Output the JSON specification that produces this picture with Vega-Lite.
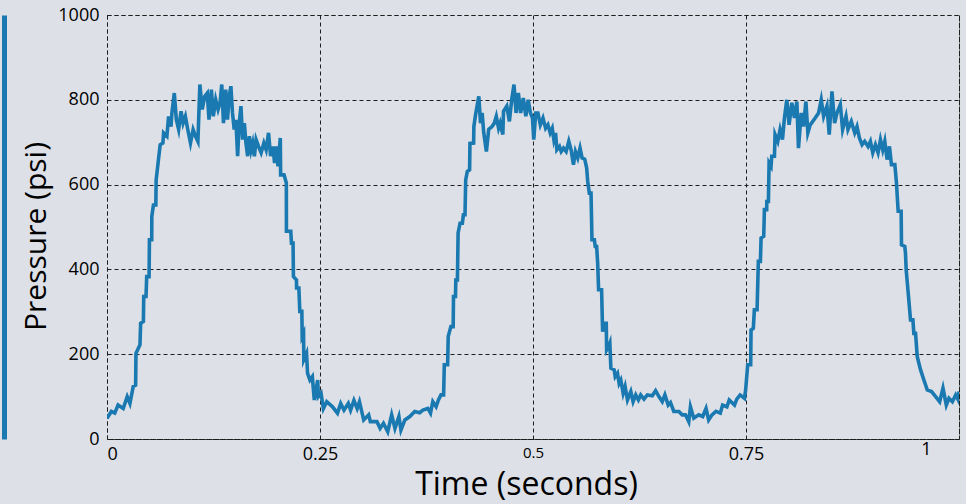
{
  "$schema": "https://vega.github.io/schema/vega-lite/v6.json",
  "width": 852,
  "height": 424,
  "autosize": {"type": "none"},
  "padding": {"left": 107, "top": 15, "right": 7, "bottom": 65},
  "background": "#dde1e7",
  "config": {
    "view": {"stroke": "#1e1e1e", "strokeDash": [4, 3], "strokeWidth": 1},
    "font": "Open Sans"
  },
  "data": {"values": [
    {"t":0,"p":49},{"t":0.0051,"p":65},{"t":0.0091,"p":61},{"t":0.013,"p":80},{"t":0.019,"p":72},{"t":0.0237,"p":100},{"t":0.0269,"p":84},{"t":0.0308,"p":124},{"t":0.0336,"p":127},{"t":0.034,"p":202},{"t":0.0387,"p":222},{"t":0.0395,"p":273},{"t":0.0427,"p":277},{"t":0.0431,"p":336},{"t":0.0458,"p":336},{"t":0.0466,"p":383},{"t":0.0494,"p":383},{"t":0.0498,"p":470},{"t":0.0525,"p":470},{"t":0.0526,"p":525},{"t":0.0545,"p":552},{"t":0.0573,"p":552},{"t":0.0577,"p":611},{"t":0.0604,"p":659},{"t":0.0624,"p":694},{"t":0.0656,"p":698},{"t":0.0664,"p":722},{"t":0.0703,"p":714},{"t":0.0723,"p":761},{"t":0.0751,"p":737},{"t":0.0762,"p":769},{"t":0.079,"p":816},{"t":0.0814,"p":753},{"t":0.0841,"p":730},{"t":0.0869,"p":773},{"t":0.0893,"p":745},{"t":0.092,"p":761},{"t":0.0948,"p":730},{"t":0.098,"p":698},{"t":0.1011,"p":730},{"t":0.1039,"p":714},{"t":0.1067,"p":702},{"t":0.109,"p":836},{"t":0.1118,"p":777},{"t":0.1146,"p":808},{"t":0.1177,"p":816},{"t":0.1197,"p":753},{"t":0.1225,"p":824},{"t":0.1248,"p":761},{"t":0.1276,"p":800},{"t":0.1304,"p":777},{"t":0.1327,"p":793},{"t":0.1347,"p":836},{"t":0.1367,"p":745},{"t":0.1394,"p":824},{"t":0.1414,"p":753},{"t":0.1434,"p":808},{"t":0.1454,"p":832},{"t":0.1473,"p":769},{"t":0.1493,"p":730},{"t":0.1513,"p":753},{"t":0.1533,"p":667},{"t":0.1552,"p":745},{"t":0.1572,"p":785},{"t":0.1592,"p":706},{"t":0.1612,"p":745},{"t":0.1631,"p":698},{"t":0.1651,"p":667},{"t":0.1671,"p":714},{"t":0.1691,"p":682},{"t":0.171,"p":698},{"t":0.173,"p":667},{"t":0.175,"p":706},{"t":0.1778,"p":690},{"t":0.1809,"p":675},{"t":0.1841,"p":698},{"t":0.1868,"p":682},{"t":0.1896,"p":722},{"t":0.192,"p":667},{"t":0.1947,"p":690},{"t":0.1967,"p":651},{"t":0.1987,"p":690},{"t":0.2007,"p":643},{"t":0.2034,"p":710},{"t":0.2038,"p":623},{"t":0.2078,"p":623},{"t":0.2105,"p":604},{"t":0.2106,"p":490},{"t":0.2157,"p":490},{"t":0.2165,"p":462},{"t":0.2184,"p":462},{"t":0.2188,"p":383},{"t":0.2224,"p":375},{"t":0.2225,"p":356},{"t":0.2252,"p":356},{"t":0.2263,"p":301},{"t":0.2287,"p":301},{"t":0.2291,"p":242},{"t":0.2307,"p":249},{"t":0.231,"p":187},{"t":0.2342,"p":202},{"t":0.2354,"p":155},{"t":0.2382,"p":139},{"t":0.241,"p":147},{"t":0.2433,"p":92},{"t":0.2473,"p":139},{"t":0.2481,"p":100},{"t":0.2512,"p":108},{"t":0.254,"p":72},{"t":0.2579,"p":88},
    {"t":0.2647,"p":76},{"t":0.2705,"p":61},{"t":0.2743,"p":84},{"t":0.2782,"p":68},{"t":0.2832,"p":84},{"t":0.2859,"p":68},{"t":0.2898,"p":91},{"t":0.2936,"p":72},{"t":0.2963,"p":88},{"t":0.3013,"p":45},{"t":0.3071,"p":57},{"t":0.3091,"p":41},{"t":0.3168,"p":41},{"t":0.3206,"p":25},{"t":0.3245,"p":37},{"t":0.3295,"p":17},{"t":0.3341,"p":57},{"t":0.338,"p":25},{"t":0.3426,"p":53},{"t":0.345,"p":21},{"t":0.3496,"p":45},{"t":0.3554,"p":53},{"t":0.3612,"p":65},{"t":0.367,"p":62},{"t":0.3708,"p":68},{"t":0.3766,"p":72},{"t":0.3797,"p":61},{"t":0.3824,"p":88},{"t":0.3863,"p":76},{"t":0.389,"p":92},{"t":0.392,"p":104},{"t":0.3951,"p":104},{"t":0.3959,"p":175},{"t":0.3998,"p":175},{"t":0.4005,"p":242},{"t":0.4036,"p":265},{"t":0.4063,"p":265},{"t":0.4067,"p":336},{"t":0.409,"p":336},{"t":0.4094,"p":375},{"t":0.4113,"p":375},{"t":0.4121,"p":486},{"t":0.4144,"p":509},{"t":0.4171,"p":509},{"t":0.4183,"p":529},{"t":0.4202,"p":529},{"t":0.421,"p":611},{"t":0.4229,"p":631},{"t":0.4256,"p":635},{"t":0.426,"p":697},{"t":0.4303,"p":698},{"t":0.4306,"p":737},{"t":0.4326,"p":765},{"t":0.4364,"p":808},{"t":0.4384,"p":745},{"t":0.4403,"p":769},{"t":0.4422,"p":722},{"t":0.4453,"p":678},{"t":0.448,"p":730},{"t":0.4519,"p":737},{"t":0.4546,"p":745},{"t":0.4569,"p":761},{"t":0.4596,"p":733},{"t":0.4615,"p":745},{"t":0.4646,"p":718},{"t":0.4654,"p":773},{"t":0.4692,"p":785},{"t":0.4723,"p":749},{"t":0.475,"p":800},{"t":0.4777,"p":836},{"t":0.4801,"p":769},{"t":0.4828,"p":816},{"t":0.4855,"p":769},{"t":0.4886,"p":804},{"t":0.4916,"p":761},{"t":0.4943,"p":800},{"t":0.497,"p":769},{"t":0.4994,"p":757},{"t":0.5009,"p":706},{"t":0.5032,"p":769},
    {"t":0.5058,"p":769},{"t":0.5086,"p":741},{"t":0.5117,"p":757},{"t":0.5148,"p":733},{"t":0.5175,"p":741},{"t":0.5202,"p":722},{"t":0.5226,"p":733},{"t":0.5245,"p":706},{"t":0.5265,"p":722},{"t":0.528,"p":682},{"t":0.5311,"p":690},{"t":0.5331,"p":678},{"t":0.5358,"p":686},{"t":0.5389,"p":678},{"t":0.542,"p":702},{"t":0.5447,"p":682},{"t":0.5475,"p":647},{"t":0.5498,"p":678},{"t":0.5525,"p":663},{"t":0.5552,"p":686},{"t":0.5576,"p":663},{"t":0.5607,"p":660},{"t":0.563,"p":639},{"t":0.5642,"p":608},{"t":0.5661,"p":580},{"t":0.5681,"p":580},{"t":0.5692,"p":470},{"t":0.572,"p":470},{"t":0.5731,"p":454},{"t":0.5747,"p":454},{"t":0.5759,"p":415},{"t":0.577,"p":352},{"t":0.5805,"p":352},{"t":0.5817,"p":253},{"t":0.5836,"p":273},{"t":0.586,"p":273},{"t":0.5864,"p":210},{"t":0.5887,"p":218},{"t":0.5902,"p":226},{"t":0.5914,"p":167},{"t":0.5953,"p":163},{"t":0.5965,"p":147},{"t":0.5992,"p":155},{"t":0.6011,"p":131},{"t":0.6031,"p":139},{"t":0.6058,"p":108},{"t":0.6081,"p":124},{"t":0.6109,"p":92},{"t":0.6148,"p":112},{"t":0.6175,"p":88},{"t":0.6206,"p":104},{"t":0.6237,"p":92},{"t":0.6264,"p":104},{"t":0.6303,"p":94},{"t":0.6342,"p":104},{"t":0.64,"p":102},{"t":0.6439,"p":114},{"t":0.6478,"p":100},{"t":0.6517,"p":88},{"t":0.6548,"p":104},{"t":0.6587,"p":80},{"t":0.6614,"p":86},{"t":0.6653,"p":65},{"t":0.6712,"p":65},{"t":0.6751,"p":57},{"t":0.6789,"p":57},{"t":0.6828,"p":41},{"t":0.6848,"p":76},{"t":0.6887,"p":49},{"t":0.6945,"p":57},{"t":0.6992,"p":53},{"t":0.7031,"p":72},{"t":0.7062,"p":45},{"t":0.7101,"p":57},{"t":0.7147,"p":65},{"t":0.7198,"p":61},{"t":0.7225,"p":80},{"t":0.7276,"p":76},{"t":0.7303,"p":92},{"t":0.7334,"p":86},{"t":0.7365,"p":80},{"t":0.7392,"p":94},{"t":0.7431,"p":104},{"t":0.7482,"p":96},
    {"t":0.7496,"p":116},{"t":0.752,"p":175},{"t":0.7555,"p":175},{"t":0.7559,"p":257},{"t":0.7586,"p":261},{"t":0.7598,"p":305},{"t":0.763,"p":305},{"t":0.7645,"p":419},{"t":0.7669,"p":419},{"t":0.7677,"p":474},{"t":0.7708,"p":478},{"t":0.7716,"p":541},{"t":0.7743,"p":541},{"t":0.7744,"p":560},{"t":0.7763,"p":560},{"t":0.7771,"p":651},{"t":0.7794,"p":643},{"t":0.7802,"p":667},{"t":0.7834,"p":667},{"t":0.7841,"p":718},{"t":0.7873,"p":702},{"t":0.79,"p":730},{"t":0.7928,"p":706},{"t":0.7951,"p":757},{"t":0.7979,"p":800},{"t":0.8006,"p":741},{"t":0.8038,"p":793},{"t":0.8069,"p":757},{"t":0.8097,"p":796},{"t":0.8116,"p":686},{"t":0.8148,"p":769},{"t":0.8175,"p":737},{"t":0.8203,"p":796},{"t":0.8226,"p":722},{"t":0.8254,"p":741},{"t":0.8312,"p":757},{"t":0.8352,"p":769},{"t":0.8383,"p":800},{"t":0.8411,"p":761},{"t":0.845,"p":785},{"t":0.8477,"p":718},{"t":0.8509,"p":820},{"t":0.854,"p":745},{"t":0.8568,"p":769},{"t":0.8607,"p":789},{"t":0.8634,"p":730},{"t":0.8674,"p":761},{"t":0.8697,"p":730},{"t":0.8736,"p":749},{"t":0.8776,"p":722},{"t":0.8803,"p":737},{"t":0.8831,"p":710},{"t":0.8862,"p":694},{"t":0.8893,"p":702},{"t":0.8933,"p":690},{"t":0.896,"p":702},{"t":0.8988,"p":675},{"t":0.9019,"p":694},{"t":0.905,"p":675},{"t":0.9078,"p":706},{"t":0.9105,"p":682},{"t":0.9129,"p":702},{"t":0.9156,"p":659},{"t":0.9184,"p":690},{"t":0.9207,"p":647},{"t":0.9247,"p":647},{"t":0.9266,"p":604},{"t":0.9286,"p":537},{"t":0.9321,"p":537},{"t":0.9325,"p":458},{"t":0.9364,"p":454},{"t":0.9372,"p":438},{"t":0.938,"p":399},{"t":0.9404,"p":344},{"t":0.9431,"p":281},{"t":0.9459,"p":281},{"t":0.947,"p":249},{"t":0.949,"p":249},{"t":0.951,"p":194},{"t":0.9549,"p":163},{"t":0.9588,"p":139},{"t":0.9627,"p":116},{"t":0.9678,"p":112},{"t":0.9726,"p":100},{"t":0.9773,"p":88},{"t":0.9812,"p":120},{"t":0.9851,"p":80},{"t":0.9882,"p":96},{"t":0.9922,"p":88},{"t":0.9961,"p":104},{"t":0.9992,"p":92},{"t":1.0,"p":112}
  ]},
  "layer": [
    {
      "mark": {"type": "line", "color": "#1a79b1", "strokeWidth": 3.6, "strokeJoin": "miter", "strokeMiterLimit": 6, "clip": true},
      "encoding": {
        "x": {
          "field": "t", "type": "quantitative",
          "scale": {"domain": [0, 1], "nice": false, "zero": false},
          "axis": {
            "values": [0, 0.25, 0.5, 0.75, 1],
            "format": "~g",
            "title": "Time (seconds)",
            "titleFont": "Open Sans", "titleFontSize": 32, "titleFontWeight": "normal", "titleColor": "#000",
            "titlePadding": 6,
            "titleX": 419,
            "labelFont": "Open Sans", "labelColor": "#000",
            "labelFontSize": {"condition": {"test": "datum.value === 0.5", "value": 15}, "value": 18},
            "labelOffset": {"condition": {"test": "datum.value === 1", "value": -28}, "value": 0},
            "labelPadding": {"condition": {"test": "datum.value === 1", "value": 1}, "value": 6},
            "ticks": false, "domain": false,
            "grid": true, "gridColor": "#1e1e1e", "gridDash": [4, 3], "gridWidth": 1, "gridOpacity": 1
          }
        },
        "y": {
          "field": "p", "type": "quantitative",
          "scale": {"domain": [0, 1000], "nice": false},
          "axis": {
            "values": [0, 200, 400, 600, 800, 1000],
            "format": "d",
            "title": "Pressure (psi)",
            "titleFont": "Open Sans", "titleFontSize": 30, "titleFontWeight": "normal", "titleColor": "#000",
            "titlePadding": 6,
            "titleY": 221,
            "labelFont": "Open Sans", "labelFontSize": 18, "labelColor": "#000",
            "labelPadding": 8,
            "ticks": false, "domain": false,
            "grid": true, "gridColor": "#1e1e1e", "gridDash": [4, 3], "gridWidth": 1, "gridOpacity": 1
          }
        }
      }
    },
    {
      "mark": {"type": "line", "opacity": 0},
      "encoding": {
        "x": {"field": "t", "type": "quantitative"},
        "y": {
          "field": "p", "type": "quantitative",
          "axis": {
            "orient": "left", "offset": 103, "title": null, "labels": false, "ticks": false, "grid": false,
            "domain": true, "domainColor": "#1a79b1", "domainWidth": 5
          }
        }
      }
    }
  ],
  "resolve": {"axis": {"y": "independent"}}
}
